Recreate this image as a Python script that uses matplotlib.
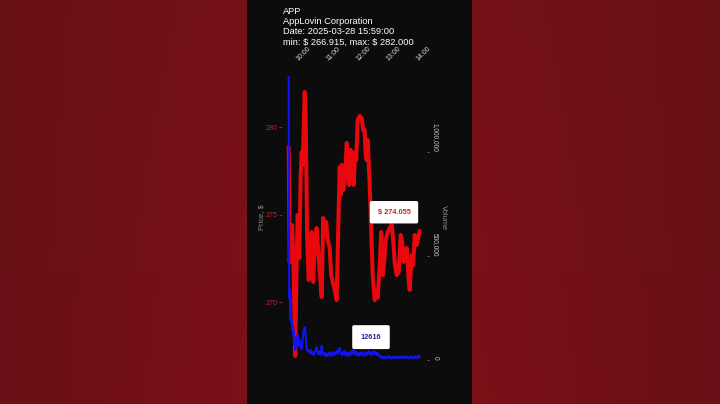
import numpy as np
import matplotlib
matplotlib.use('Agg')
import matplotlib.pyplot as plt
import matplotlib.dates as mdates
from matplotlib.ticker import FuncFormatter

# ---------------- data ----------------
ticker = "APP"
company = "AppLovin Corporation"
date_str = "2025-03-28 15:59:00"
price_min = 266.915
price_max = 282.000
last_price = 274.055
last_volume = 12616

# minutes after 09:30
price_minutes = [0, 2, 5, 7, 10, 13, 16, 18, 21, 24,
                 26, 28, 32, 34, 37, 40, 43, 46, 49, 52,
                 56, 59, 62, 66, 69, 72, 75, 78, 82, 85,
                 88, 92, 96, 99, 102, 104, 106, 109, 112, 116,
                 119, 121, 124, 127, 130, 133, 135, 138, 142, 146,
                 149, 152, 154, 156, 158, 162, 165, 168, 172, 176,
                 178, 182, 185, 188, 191, 194, 198, 202, 206, 209,
                 212, 216, 220, 224, 227, 230, 233, 236, 240, 242,
                 246, 249, 252, 256, 259, 262]
price_values = [278.86, 272.29, 273.54, 274.40, 271.54, 266.915, 272.40, 274.97, 272.51, 277.26,
                278.57, 277.83, 282.00, 280.40, 273.54, 271.26, 272.29, 274.00, 271.14, 273.26,
                274.23, 272.97, 271.71, 270.29, 274.80, 273.83, 274.57, 273.54, 273.09, 271.54,
                271.14, 270.69, 270.11, 274.11, 277.71, 276.11, 277.83, 276.40, 276.80, 279.09,
                278.11, 276.69, 278.69, 278.23, 276.69, 278.57, 278.11, 280.40, 280.63, 280.51,
                279.83, 279.83, 278.40, 278.11, 279.26, 276.69, 274.11, 271.54, 270.11, 270.69,
                270.23, 272.11, 274.00, 271.54, 272.29, 273.54, 274.00, 274.23, 274.40, 273.54,
                272.29, 271.54, 271.71, 273.83, 273.43, 272.29, 272.69, 273.09, 271.26, 270.69,
                272.69, 272.11, 273.83, 273.26, 273.66, 274.055]

volume_minutes_early = [0, 1, 2, 3, 4, 5, 6, 7, 8, 9, 10, 11, 12, 13, 14, 15, 16, 17, 18, 19]
volume_k_early = [1360, 300, 337, 192, 290, 183, 192, 144, 168, 120,
                  144, 72, 110, 48, 96, 72, 106, 62, 120, 82]
# every 2 minutes from 09:50
volume_k_late = [72, 96, 62, 53, 96, 144, 159, 120, 53, 43,
                 48, 34, 48, 29, 38, 24, 38, 48, 62, 34,
                 29, 43, 24, 67, 38, 24, 34, 19, 29, 19,
                 34, 24, 38, 19, 29, 38, 24, 34, 43, 29,
                 48, 58, 34, 24, 38, 29, 43, 24, 34, 19,
                 29, 38, 24, 34, 48, 29, 43, 24, 38, 29,
                 19, 34, 24, 38, 29, 19, 29, 38, 24, 34,
                 43, 29, 38, 24, 34, 43, 29, 38, 24, 34,
                 24, 14, 19, 10, 14, 8, 17, 11, 9, 15,
                 20, 10, 13, 8, 16, 11, 14, 9, 18, 12,
                 8, 15, 10, 13, 19, 9, 12, 16, 10, 14,
                 8, 11, 17, 13, 9, 15, 11, 18, 10, 14,
                 20, 12.616]

price_ticks = [270, 275, 280]
volume_ticks = [0, 500000, 1000000]

# ---------------- figure ----------------
plt.rcParams['font.family'] = ['Liberation Sans', 'DejaVu Sans']
W, H = 720, 404
fig = plt.figure(figsize=(W / 100, H / 100), dpi=100)

# background: dark red gradient with black center panel
yy, xx = np.mgrid[0:H, 0:W]
t = 1 - np.abs(xx - 360) / 360.0
s = yy / float(H)
img = np.zeros((H, W, 3))
img[..., 0] = 104 + 20 * t + 10 * t * s
img[..., 1] = 17 + 2 * t - 3 * t * s
img[..., 2] = 21 + 4 * t
img[:, 247:472, :] = 12
bg = fig.add_axes([0, 0, 1, 1])
bg.imshow(img / 255.0, aspect='auto', interpolation='bilinear')
bg.axis('off')

# main axes (pixel box)
x0, x1, ytop, ybot = 282, 427, 64, 373
ax = fig.add_axes([x0 / W, (H - ybot) / H, (x1 - x0) / W, (ybot - ytop) / H])
ax.patch.set_alpha(0)

base = np.datetime64('2025-03-28T09:30:00')
pt = base + np.array(price_minutes, dtype='timedelta64[m]')
vmins = volume_minutes_early + list(range(20, 20 + 2 * len(volume_k_late), 2))
vt = base + np.array(vmins, dtype='timedelta64[m]')
vol = np.array(volume_k_early + volume_k_late) * 1000

ax.plot(pt, price_values, color='#e8080e', lw=2.9,
        solid_joinstyle='round', solid_capstyle='round')
ax.set_xlim(base - np.timedelta64(804, 's'), base + np.timedelta64(16596, 's'))
ax.set_ylim(265.943, 283.6)
ax.set_yticks(price_ticks)

ax2 = ax.twinx()
ax2.plot(vt, vol, color='#1212f2', lw=1.5)
ax2.set_ylim(-62500, 1423100)
ax2.set_yticks(volume_ticks)
ax2.yaxis.set_major_formatter(FuncFormatter(lambda v, p: f"{v:,.0f}"))

for a in (ax, ax2):
    for sp in a.spines.values():
        sp.set_visible(False)

# x axis on top
ax.xaxis.tick_top()
ax.xaxis.set_major_locator(mdates.HourLocator())
ax.xaxis.set_major_formatter(mdates.DateFormatter('%H:%M'))
ax.tick_params(axis='x', labelsize=5.0, labelcolor='#d8d8d8', length=0,
               pad=1.5, labelrotation=45)

# left price axis
ax.tick_params(axis='y', labelsize=5.2, labelcolor='#b8282e', color='#7a3a3a',
               length=2, width=0.6, pad=1)
ax.set_ylabel('Price, $', color='#8f8f8f', fontsize=5.4)
ax.yaxis.set_label_coords((261.5 - x0) / (x1 - x0), (ybot - 217) / (ybot - ytop))
ax.yaxis.label.set_va('center')

# right volume axis
ax2.tick_params(axis='y', labelsize=4.7, labelcolor='#c8c8c8', color='#777777',
                length=1.5, width=0.6, pad=2)
for lab in ax2.get_yticklabels():
    lab.set_rotation(270)
    lab.set_rotation_mode('anchor')
    lab.set_horizontalalignment('right')
    lab.set_verticalalignment('bottom')
ax2.set_ylabel('Volume', color='#8f8f8f', fontsize=5.4, rotation=270)
ax2.yaxis.set_label_coords((443 - x0) / (x1 - x0), (ybot - 218) / (ybot - ytop))
ax2.yaxis.label.set_va('center')
ax2.yaxis.label.set_ha('center')

# value labels
ax.text(base + np.timedelta64(12636, 's'), 275.13, f"$ {last_price:.3f}",
        ha='center', va='center', fontsize=5.3, fontweight='bold', color='#c0262c',
        bbox=dict(boxstyle='round,pad=1.05,rounding_size=0.25', fc='white', ec='none'),
        zorder=5)
ax2.text(base + np.timedelta64(9876, 's'), 110000, f"{last_volume}",
         ha='center', va='center', fontsize=5.3, fontweight='bold', color='#28288f',
         bbox=dict(boxstyle='round,pad=1.15,rounding_size=0.25', fc='white', ec='none'),
         zorder=5)

# title block
lines = [ticker, company, f"Date: {date_str}",
         f"min: \\$ {price_min:.3f}, max: \\$ {price_max:.3f}"]
baselines = [13.5, 24.0, 34.5, 45.0]
for txt, b in zip(lines, baselines):
    fig.text(283 / W, 1 - b / H, txt, color='white', fontsize=6.7,
             ha='left', va='baseline')

fig.savefig('out.png', dpi=100)
